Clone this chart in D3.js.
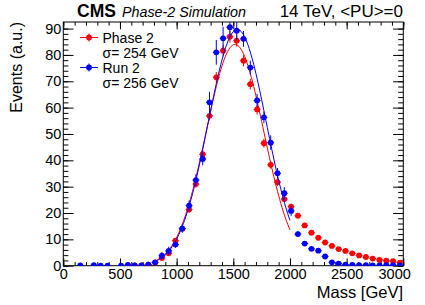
<!DOCTYPE html>
<html>
<head>
<meta charset="utf-8">
<script src="https://cdn.jsdelivr.net/npm/d3@7"></script>
<style>
  body { margin: 0; background: #fff; }
  svg { display: block; font-family: "Liberation Sans", Arial, sans-serif; }
</style>
</head>
<body>
<div class="chart"></div>
<script>
// bin centres (60 GeV bins from 0 to 3000)
const binCenters = [30, 90, 150, 210, 270, 330, 390, 450, 510, 570,
  630, 690, 750, 810, 870, 930, 990, 1050, 1110, 1170,
  1230, 1290, 1350, 1410, 1470, 1530, 1590, 1650, 1710, 1770,
  1830, 1890, 1950, 2010, 2070, 2130, 2190, 2250, 2310, 2370,
  2430, 2490, 2550, 2610, 2670, 2730, 2790, 2850, 2910, 2970];

// Phase 2 (red)
const phase2Values = [null, null, null, null, null, null, null, null, null, 0.1,
  0.1, 0.1, 0.4, 1.2, 2.9, 4.7, 9.5, 14.0, 21.3, 31.0,
  42.3, 56.9, 71.5, 81.6, 86.9, 85.4, 77.8, 68.9, 59.3, 46.5,
  38.3, 31.7, 25.3, 22.4, 19.0, 15.3, 12.5, 10.6, 8.8, 7.5,
  6.3, 5.6, 4.7, 3.9, 3.3, 2.7, 2.2, 1.9, 1.7, 1.2];
const phase2Errors = [0, 0, 0, 0, 0, 0, 0, 0, 0, 0.1,
  0.1, 0.1, 0.2, 0.3, 0.5, 0.6, 0.8, 1.0, 1.2, 1.4,
  1.6, 1.8, 2.0, 2.2, 2.3, 2.2, 2.1, 2.0, 1.9, 1.7,
  1.5, 1.4, 1.2, 1.1, 1.0, 0.9, 0.8, 0.7, 0.7, 0.6,
  0.6, 0.5, 0.5, 0.4, 0.4, 0.4, 0.3, 0.3, 0.3, 0.2];

// Run 2 (blue)
const run2Values = [null, null, 0.1, null, 0.2, 0.05, 0.05, null, 0.05, 0.3,
  0.1, 0.1, 0.4, 1.3, 3.8, 5.6, 8.0, 14.1, 22.8, 32.5,
  40.5, 62.0, 81.0, 86.3, 90.5, 89.2, 86.1, 75.2, 62.7, 56.3,
  46.7, 35.1, 27.5, 20.8, 12.0, 8.4, 6.4, 5.7, 3.5, 1.3,
  0.8, 0.4, 0.3, 0.2, 0.2, 0.1, 0.1, 0.2, 0.2, 0.1];
const run2Errors = [0, 0, 0.1, 0, 0.2, 0.05, 0.05, 0, 0.05, 0.3,
  0.1, 0.1, 0.4, 0.8, 1.4, 1.6, 1.2, 1.6, 2.0, 2.2,
  2.4, 4.0, 4.7, 4.4, 3.8, 3.5, 3.0, 2.6, 2.5, 2.2,
  2.8, 2.0, 2.3, 1.9, 1.0, 0.9, 0.8, 0.8, 0.6, 0.4,
  0.3, 0.2, 0.1, 0.1, 0.1, 0.1, 0.1, 0.1, 0.1, 0.1];

// gaussian fit results: [amplitude, mean, sigma], fit range
const phase2Fit = [84.0, 1515, 254];
const run2Fit = [89.7, 1535, 256];
const fitRange = [800, 2000];

const xTicks = [0, 500, 1000, 1500, 2000, 2500, 3000];
const yTicks = [0, 10, 20, 30, 40, 50, 60, 70, 80, 90];

const binWidth = 60;
const W = 425, H = 305;
const frame = {left: 63.3, right: 403.3, top: 22, bottom: 265.7};

const svg = d3.select(".chart").append("svg").attr("width", W).attr("height", H);

const x = d3.scaleLinear().domain([0, 3000]).range([frame.left, frame.right]);
const y = d3.scaleLinear().domain([0, 92.5]).range([frame.bottom, frame.top]);

const fw = frame.right - frame.left, fh = frame.bottom - frame.top;

// axes with ticks pointing inward, ROOT style
function styleAxis(g) {
  g.select(".domain").remove();
  g.selectAll("line").attr("stroke", "#000").attr("stroke-width", 1);
  g.selectAll("text").attr("fill", "#000").attr("font-family", "Liberation Sans, Arial, sans-serif").attr("font-size", 14.5);
}

svg.append("g").attr("transform", `translate(0,${frame.bottom})`)
  .call(d3.axisBottom(x).tickValues(d3.range(0, 3001, 100)).tickSize(-fh * 0.015).tickFormat(""))
  .call(styleAxis);
const xAxisG = svg.append("g").attr("transform", `translate(0,${frame.bottom})`)
  .call(d3.axisBottom(x).tickValues(xTicks).tickSize(-fh * 0.03).tickPadding(3).tickFormat(d3.format("d")))
  .call(styleAxis);
// ROOT nudges the last label inside
xAxisG.selectAll("text").filter(d => d === 3000).attr("text-anchor", "end").attr("dx", 7);

svg.append("g").attr("transform", `translate(0,${frame.top})`)
  .call(d3.axisTop(x).tickValues(d3.range(0, 3001, 100)).tickSize(-fh * 0.015).tickFormat(""))
  .call(styleAxis);
svg.append("g").attr("transform", `translate(0,${frame.top})`)
  .call(d3.axisTop(x).tickValues(xTicks).tickSize(-fh * 0.03).tickFormat(""))
  .call(styleAxis);

svg.append("g").attr("transform", `translate(${frame.left},0)`)
  .call(d3.axisLeft(y).tickValues(d3.range(0, 92, 2)).tickSize(-fw * 0.015).tickFormat(""))
  .call(styleAxis);
svg.append("g").attr("transform", `translate(${frame.left},0)`)
  .call(d3.axisLeft(y).tickValues(yTicks).tickSize(-fw * 0.03).tickPadding(2).tickFormat(d3.format("d")))
  .call(styleAxis);
svg.append("g").attr("transform", `translate(${frame.right},0)`)
  .call(d3.axisRight(y).tickValues(d3.range(0, 92, 2)).tickSize(-fw * 0.015).tickFormat(""))
  .call(styleAxis);
svg.append("g").attr("transform", `translate(${frame.right},0)`)
  .call(d3.axisRight(y).tickValues(yTicks).tickSize(-fw * 0.03).tickFormat(""))
  .call(styleAxis);

svg.append("rect")
  .attr("x", frame.left).attr("y", frame.top)
  .attr("width", fw).attr("height", fh)
  .attr("fill", "none").attr("stroke", "#000").attr("stroke-width", 1);

// series
const series = [
  {name: "Phase 2", sigma: "σ= 254 GeV", color: "#ff0000", values: phase2Values, errors: phase2Errors, fit: phase2Fit},
  {name: "Run 2", sigma: "σ= 256 GeV", color: "#0000ff", values: run2Values, errors: run2Errors, fit: run2Fit}
];

const clip = svg.append("clipPath").attr("id", "clip").append("rect")
  .attr("x", frame.left).attr("y", frame.top).attr("width", fw).attr("height", fh);

const plot = svg.append("g").attr("clip-path", "url(#clip)");

const gauss = (p, m) => p[0] * Math.exp(-0.5 * Math.pow((m - p[1]) / p[2], 2));
const line = d3.line().x(d => x(d[0])).y(d => y(d[1]));

series.forEach(s => {
  const pts = binCenters.map((c, i) => ({c, v: s.values[i], e: s.errors[i]})).filter(d => d.v !== null);
  const g = plot.append("g");

  g.selectAll(".ex").data(pts).enter().append("line")
    .attr("x1", d => x(d.c - binWidth / 2)).attr("x2", d => x(d.c + binWidth / 2))
    .attr("y1", d => y(d.v)).attr("y2", d => y(d.v))
    .attr("stroke", s.color).attr("stroke-width", 1);
  g.selectAll(".ey").data(pts).enter().append("line")
    .attr("x1", d => x(d.c)).attr("x2", d => x(d.c))
    .attr("y1", d => y(d.v - d.e)).attr("y2", d => y(d.v + d.e))
    .attr("stroke", s.color).attr("stroke-width", 1);
  g.selectAll("circle").data(pts).enter().append("circle")
    .attr("cx", d => x(d.c)).attr("cy", d => y(d.v)).attr("r", 2.9)
    .attr("fill", s.color);

  const fitPts = d3.range(fitRange[0], fitRange[1] + 1, 10).map(m => [m, gauss(s.fit, m)]);
  g.append("path").datum(fitPts).attr("d", line)
    .attr("fill", "none").attr("stroke", s.color).attr("stroke-width", 1);
});

// legend
const legend = svg.append("g");
series.forEach((s, i) => {
  const yy = 37.5 + i * 30;
  legend.append("line").attr("x1", 80).attr("x2", 98).attr("y1", yy).attr("y2", yy)
    .attr("stroke", s.color);
  legend.append("line").attr("x1", 89).attr("x2", 89).attr("y1", yy - 4).attr("y2", yy + 4)
    .attr("stroke", s.color);
  legend.append("circle").attr("cx", 89).attr("cy", yy).attr("r", 2.9).attr("fill", s.color);
  legend.append("text").attr("x", 102.5).attr("y", yy + 5).attr("font-size", 14).text(s.name);
  legend.append("text").attr("x", 102.5).attr("y", yy + 20).attr("font-size", 14).text(s.sigma);
});

// titles
svg.append("text").attr("x", 77).attr("y", 17).attr("font-size", 17.5).attr("font-weight", "bold").text("CMS");
svg.append("text").attr("x", 122).attr("y", 17).attr("font-size", 14.3).attr("font-style", "italic").text("Phase-2 Simulation");
svg.append("text").attr("x", 403).attr("y", 17).attr("font-size", 17).attr("text-anchor", "end").text("14 TeV, <PU>=0");

svg.append("text").attr("x", 403).attr("y", 298).attr("font-size", 16.5).attr("text-anchor", "end").text("Mass [GeV]");
svg.append("text").attr("transform", "translate(22,22) rotate(-90)").attr("font-size", 16)
  .attr("text-anchor", "end").text("Events (a.u.)");
</script>
</body>
</html>
